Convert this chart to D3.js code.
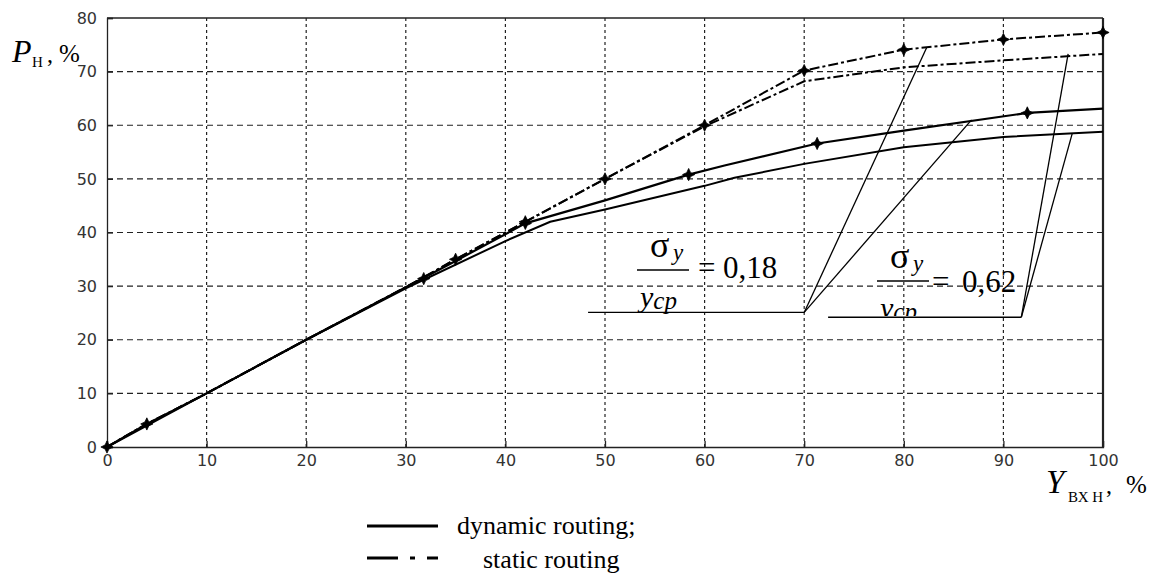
<!DOCTYPE html>
<html>
<head>
<meta charset="utf-8">
<script src="https://cdn.jsdelivr.net/npm/d3@7"></script>
<style>
  body { margin: 0; background: #fff; }
  svg { display: block; }
  .tick-label { font-family: "DejaVu Sans", sans-serif; font-size: 16px; fill: #333; }
</style>
</head>
<body>
<svg id="chart" width="1157" height="574"></svg>
<script>
// ---- data ----
const xTicks = [0, 10, 20, 30, 40, 50, 60, 70, 80, 90, 100];
const yTicks = [0, 10, 20, 30, 40, 50, 60, 70, 80];

// dynamic routing, two curves (upper one carries the markers)
const dynamicUpper = [[0, 0], [4, 4.3], [10, 10], [20, 20], [30, 29.8], [35, 34.7], [42, 41.7], [50, 46],
  [58.4, 50.8], [62, 52.5], [71.3, 56.6], [80, 59], [92.4, 62.3], [100, 63.1]];
const dynamicLower = [[0, 0], [10, 10], [20, 20], [30, 29.6], [40, 38.4], [44.5, 42], [50, 44.3], [60, 48.7],
  [63, 50.2], [70, 52.8], [80, 55.9], [90, 57.8], [100, 58.8]];
const dynamicMarkers = [[31.8, 31.4], [42, 41.7], [58.4, 50.8], [71.3, 56.6], [92.4, 62.3]];

// static routing, two curves
const staticUpper = [[0, 0], [4, 4.3], [10, 10], [20, 20], [30, 29.8], [35, 35], [42, 42], [50, 50],
  [60, 60], [70, 70.2], [80, 74.1], [90, 76], [100, 77.3]];
const staticLower = [[0, 0], [4, 4.3], [10, 10], [20, 20], [30, 29.8], [35, 35], [42, 42], [50, 50],
  [60, 59.8], [70, 68.2], [80, 70.8], [90, 72.1], [100, 73.3]];
const staticMarkers = [[0, 0], [4, 4.3], [35, 35], [42, 42], [50, 50], [60, 60], [70, 70.2], [80, 74.1], [90, 76], [100, 77.3]];

// leader lines of the two sigma annotations: [start of shelf, corner, targets...]
const note018 = [[48.3, 25.1], [70, 25.1], [82.3, 74.5], [86.8, 61.0]];
const note062 = [[72.4, 24.2], [91.8, 24.2], [96.5, 73.3], [96.9, 58.4]];

const legendLabels = ["dynamic routing;", "static routing"];

// ---- drawing ----
const SERIF = "'Liberation Serif', Tinos, 'Times New Roman', Times, 'Nimbus Roman', 'DejaVu Serif', serif";
const svg = d3.select("#chart");
const x = d3.scaleLinear().domain([0, 100]).range([107, 1103]);
const y = d3.scaleLinear().domain([0, 80]).range([447, 18]);

function serifText(parent, tx, ty, size, str, italic) {
  return parent.append("text")
    .attr("x", tx).attr("y", ty)
    .attr("font-family", SERIF)
    .attr("font-size", size)
    .attr("font-style", italic ? "italic" : "normal")
    .attr("fill", "#000")
    .text(str);
}

//grid
svg.append("g").selectAll("line")
  .data(yTicks.slice(1, -1))
  .join("line")
  .attr("x1", x(0)).attr("x2", x(100))
  .attr("y1", d => y(d)).attr("y2", d => y(d))
  .attr("stroke", "#222").attr("stroke-width", 1.2)
  .attr("stroke-dasharray", "6,4");
svg.append("g").selectAll("line")
  .data(xTicks.slice(1, -1))
  .join("line")
  .attr("x1", d => x(d)).attr("x2", d => x(d))
  .attr("y1", y(0)).attr("y2", y(80))
  .attr("stroke", "#222").attr("stroke-width", 1.2)
  .attr("stroke-dasharray", "3,3");

//axes (box with inward ticks)
const xAxis = d3.axisBottom(x).tickValues(xTicks).tickSize(-6).tickPadding(10);
const yAxis = d3.axisLeft(y).tickValues(yTicks).tickSize(-6).tickPadding(10);
const gx = svg.append("g").attr("transform", `translate(0,${y(0)})`).call(xAxis);
const gy = svg.append("g").attr("transform", `translate(${x(0)},0)`).call(yAxis);
[gx, gy].forEach(g => {
  g.select(".domain").attr("stroke", "#222").attr("stroke-width", 1.3);
  g.selectAll(".tick line").attr("stroke", "#222").attr("stroke-width", 1.3);
  g.selectAll(".tick text").attr("class", "tick-label").attr("font-family", null).attr("font-size", null);
});
gx.selectAll(".tick text").attr("dy", "0.55em");
svg.append("line").attr("x1", x(0)).attr("x2", x(100)).attr("y1", y(80)).attr("y2", y(80))
  .attr("stroke", "#222").attr("stroke-width", 1.3);
svg.append("line").attr("x1", x(100)).attr("x2", x(100)).attr("y1", y(80)).attr("y2", y(0))
  .attr("stroke", "#222").attr("stroke-width", 2.2);

//curves
const line = d3.line().x(d => x(d[0])).y(d => y(d[1]));
const dashDot = "10,3,3,3";
svg.append("path").datum(staticLower).attr("d", line)
  .attr("fill", "none").attr("stroke", "#000").attr("stroke-width", 2).attr("stroke-dasharray", dashDot);
svg.append("path").datum(staticUpper).attr("d", line)
  .attr("fill", "none").attr("stroke", "#000").attr("stroke-width", 2).attr("stroke-dasharray", dashDot);
svg.append("path").datum(dynamicLower).attr("d", line)
  .attr("fill", "none").attr("stroke", "#000").attr("stroke-width", 2);
svg.append("path").datum(dynamicUpper).attr("d", line)
  .attr("fill", "none").attr("stroke", "#000").attr("stroke-width", 2.2);

//markers: small filled four point star
const star4 = {
  draw(ctx, size) {
    const r = Math.sqrt(size) / 2, k = r * 0.32;
    ctx.moveTo(0, -r);
    ctx.lineTo(k, -k); ctx.lineTo(r, 0); ctx.lineTo(k, k);
    ctx.lineTo(0, r); ctx.lineTo(-k, k); ctx.lineTo(-r, 0); ctx.lineTo(-k, -k);
    ctx.closePath();
  }
};
const sym = d3.symbol().type(star4).size(150);
svg.append("g").selectAll("path")
  .data(staticMarkers.concat(dynamicMarkers))
  .join("path")
  .attr("transform", d => `translate(${x(d[0])},${y(d[1])})`)
  .attr("d", sym)
  .attr("fill", "#000").attr("stroke", "#000").attr("stroke-width", 0.8);

//annotation leaders
[note018, note062].forEach(n => {
  const g = svg.append("g").attr("stroke", "#000").attr("stroke-width", 1.3).attr("fill", "none");
  g.append("line").attr("x1", x(n[0][0])).attr("y1", y(n[0][1])).attr("x2", x(n[1][0])).attr("y2", y(n[1][1]));
  n.slice(2).forEach(t => {
    g.append("line").attr("x1", x(n[1][0])).attr("y1", y(n[1][1])).attr("x2", x(t[0])).attr("y2", y(t[1]));
  });
});

//sigma fractions
function fraction(cx, barY, value, eqX, valX, valBase, clipBottom) {
  const g = svg.append("g");
  serifText(g, cx - 13, barY - 13, 36, "σ", false);
  serifText(g, cx + 10, barY - 10, 23, "y", true);
  g.append("line").attr("x1", cx - 26).attr("x2", cx + 26).attr("y1", barY).attr("y2", barY)
    .attr("stroke", "#000").attr("stroke-width", 1.3);
  serifText(g, eqX, valBase, 31, "=", false);
  serifText(g, valX, valBase, 31, value, false);
  const den = serifText(g, cx - 23, barY + 37, 30, "y", true);
  den.append("tspan").attr("font-size", 25).attr("dy", 2).text("ср");
  if (clipBottom) {
    const id = "clip" + Math.round(cx);
    svg.append("clipPath").attr("id", id).append("rect")
      .attr("x", 0).attr("y", 0).attr("width", 1157).attr("height", clipBottom);
    den.attr("clip-path", `url(#${id})`);
  }
}
fraction(663, 270, "0,18", 698, 723, 278, null);
fraction(903, 281, "0,62", 932, 962, 292, 316);

//axis titles
const yt = svg.append("g");
serifText(yt, 12, 62, 32, "P", true);
serifText(yt, 32, 67, 15, "Н", false);
serifText(yt, 47, 62, 24, ",", false);
serifText(yt, 59, 62, 25, "%", false);

const xt = svg.append("g");
serifText(xt, 1046, 493, 33, "Y", true);
serifText(xt, 1068, 502, 15, "ВХ Н", false);
serifText(xt, 1106, 493, 24, ",", false);
serifText(xt, 1126, 493, 25, "%", false);

//legend
const lg = svg.append("g");
lg.append("line").attr("x1", 367).attr("x2", 438).attr("y1", 526).attr("y2", 526)
  .attr("stroke", "#000").attr("stroke-width", 3);
lg.append("line").attr("x1", 367).attr("x2", 438).attr("y1", 558).attr("y2", 558)
  .attr("stroke", "#000").attr("stroke-width", 3).attr("stroke-dasharray", "31,12,5,12,11,99");
serifText(lg, 457, 534, 26, legendLabels[0], false);
serifText(lg, 483, 568, 26, legendLabels[1], false);
</script>
</body>
</html>
